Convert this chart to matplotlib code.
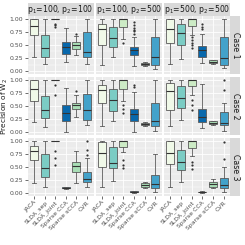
import matplotlib
matplotlib.use("Agg")
import matplotlib.pyplot as plt
import numpy as np

methods = ["JACA", "SLDA_sep", "SLDA_joint", "Sparse CCA", "Sparse sCCA", "CVR"]
colors = ["#F0F9E8", "#7BCCC4", "#CCEBC5", "#0868AC", "#A8DDB5", "#43A2CA"]
settings = [r"$\mathregular{p_1}$=100, $\mathregular{p_2}$=100",
            r"$\mathregular{p_1}$=100, $\mathregular{p_2}$=500",
            r"$\mathregular{p_1}$=500, $\mathregular{p_2}$=500"]
cases = ["Case 1", "Case 2", "Case 3"]
y_ticks = [0.0, 0.25, 0.5, 0.75, 1.0]
y_ticklabels = ["0.00", "0.25", "0.50", "0.75", "1.00"]

# (whisker low, q1, median, q3, whisker high) per method
c1_s1 = [(0.27, 0.70, 0.87, 1.00, 1.00), (0.13, 0.27, 0.45, 0.70, 1.00), (1.00, 1.00, 1.00, 1.00, 1.00),
         (0.17, 0.33, 0.46, 0.56, 0.83), (0.31, 0.42, 0.50, 0.55, 0.67), (0.13, 0.26, 0.37, 0.75, 1.00)]
c1_s2 = [(0.11, 0.50, 0.80, 0.90, 1.00), (0.275, 0.47, 0.64, 0.84, 1.00), (0.62, 0.84, 1.00, 1.00, 1.00),
         (0.10, 0.31, 0.41, 0.46, 0.65), (0.10, 0.12, 0.14, 0.16, 0.18), (0.03, 0.115, 0.26, 0.65, 1.00)]
c1_s3 = [(0.135, 0.53, 0.80, 1.00, 1.00), (0.225, 0.50, 0.725, 0.90, 1.00), (0.69, 0.865, 1.00, 1.00, 1.00),
         (0.16, 0.275, 0.40, 0.48, 0.705), (0.14, 0.15, 0.18, 0.21, 0.22), (0.05, 0.115, 0.245, 0.65, 1.00)]
c2_s1 = [(0.20, 0.60, 0.82, 1.00, 1.00), (0.09, 0.275, 0.42, 0.70, 1.00), (1.00, 1.00, 1.00, 1.00, 1.00),
         (0.00, 0.22, 0.36, 0.52, 0.84), (0.29, 0.44, 0.51, 0.56, 0.71), (0.135, 0.23, 0.43, 0.74, 1.00)]
c2_s2 = [(0.115, 0.55, 0.81, 0.90, 1.00), (0.22, 0.41, 0.615, 0.83, 1.00), (0.60, 0.83, 1.00, 1.00, 1.00),
         (0.00, 0.21, 0.34, 0.44, 0.76), (0.12, 0.135, 0.16, 0.18, 0.20), (0.025, 0.12, 0.22, 0.56, 1.00)]
c2_s3 = [(0.115, 0.42, 0.78, 0.94, 1.00), (0.23, 0.455, 0.65, 0.89, 1.00), (0.71, 0.885, 1.00, 1.00, 1.00),
         (0.07, 0.20, 0.295, 0.44, 0.92), (0.13, 0.15, 0.18, 0.205, 0.22), (0.025, 0.135, 0.18, 0.39, 0.56)]
c3_s1 = [(0.20, 0.63, 0.81, 0.91, 1.00), (0.11, 0.30, 0.475, 0.75, 1.00), (1.00, 1.00, 1.00, 1.00, 1.00),
         (0.08, 0.09, 0.10, 0.11, 0.12), (0.185, 0.41, 0.525, 0.59, 0.81), (0.12, 0.205, 0.265, 0.40, 0.67)]
c3_s2 = [(0.12, 0.50, 0.76, 0.99, 1.00), (0.235, 0.49, 0.58, 0.89, 1.00), (0.79, 0.89, 1.00, 1.00, 1.00),
         (0.00, 0.01, 0.02, 0.03, 0.04), (0.10, 0.12, 0.16, 0.20, 0.22), (0.025, 0.09, 0.17, 0.345, 0.75)]
c3_s3 = [(0.12, 0.55, 0.775, 1.00, 1.00), (0.22, 0.44, 0.60, 0.83, 1.00), (0.71, 0.86, 1.00, 1.00, 1.00),
         (0.00, 0.01, 0.015, 0.02, 0.03), (0.10, 0.12, 0.17, 0.22, 0.26), (0.025, 0.09, 0.155, 0.28, 0.505)]

# outliers per method
f1_s1 = [[], [], [0.91, 0.88, 0.85], [], [0.72], []]
f1_s2 = [[], [], [0.54], [0.94, 0.88, 0.83, 0.79, 0.76, 0.71], [], []]
f1_s3 = [[], [], [0.65, 0.60, 0.54, 0.50, 0.45], [0.90, 0.85, 0.80], [], []]
f2_s1 = [[], [], [0.90, 0.72], [], [0.78], []]
f2_s2 = [[], [], [0.52, 0.44, 0.37], [0.90, 0.86], [], []]
f2_s3 = [[], [], [0.62, 0.52, 0.42], [], [], [1.00, 0.80]]
f3_s1 = [[], [], [0.81, 0.67, 0.54], [], [], [1.00, 0.83, 0.73]]
f3_s2 = [[], [], [0.63, 0.54, 0.475], [], [], []]
f3_s3 = [[], [], [0.60, 0.53, 0.47], [], [], [0.98, 0.65]]

stats = [[c1_s1, c1_s2, c1_s3], [c2_s1, c2_s2, c2_s3], [c3_s1, c3_s2, c3_s3]]
fliers = [[f1_s1, f1_s2, f1_s3], [f2_s1, f2_s2, f2_s3], [f3_s1, f3_s2, f3_s3]]

W = H = 245.0
fig = plt.figure(figsize=(2.45, 2.45), dpi=100)

def px_axes(x0, y0, x1, y1):
    return fig.add_axes([x0 / W, 1 - y1 / H, (x1 - x0) / W, (y1 - y0) / H])

col_x = [(27.5, 93.5), (95.7, 161.7), (163.9, 229.9)]
row_y = [(16.4, 73.6), (77.4, 134.6), (138.4, 195.6)]
strip_fc = "#D9D9D9"

for r in range(3):
    for c in range(3):
        x0, x1 = col_x[c]
        y0, y1 = row_y[r]
        ax = px_axes(x0, y0, x1, y1)
        ax.set_facecolor("#EBEBEB")
        bxs = []
        for i, s in enumerate(stats[r][c]):
            lo, q1, med, q3, hi = s
            bxs.append(dict(whislo=lo, q1=q1, med=med, q3=q3, whishi=hi,
                            fliers=fliers[r][c][i], label=methods[i]))
        pos = np.arange(1, len(methods) + 1)
        bp = ax.bxp(bxs, positions=pos, widths=0.75, patch_artist=True, showcaps=True,
                    boxprops=dict(edgecolor="#5A5A5A", linewidth=0.6),
                    medianprops=dict(color="#333333", linewidth=0.8),
                    whiskerprops=dict(color="#5A5A5A", linewidth=0.6),
                    capprops=dict(color="#5A5A5A", linewidth=0.6),
                    capwidths=0.375,
                    flierprops=dict(marker="o", markersize=1.6, markerfacecolor="#333333",
                                    markeredgecolor="none"), zorder=3)
        for patch, col in zip(bp["boxes"], colors):
            patch.set_facecolor(col)
        ax.set_xlim(0.4, 6.6)
        ax.set_ylim(-0.05, 1.05)
        ax.set_yticks(y_ticks)
        ax.set_yticks([0.125, 0.375, 0.625, 0.875], minor=True)
        ax.set_xticks(pos)
        ax.grid(True, which="major", color="white", linewidth=0.6, zorder=0)
        ax.grid(True, which="minor", axis="y", color="white", linewidth=0.3, zorder=0)
        ax.set_axisbelow(True)
        for sp in ax.spines.values():
            sp.set_visible(False)
        ax.tick_params(which="minor", length=0)
        ax.tick_params(which="major", length=2, width=0.5, color="#333333",
                       labelsize=4.4, labelcolor="#4D4D4D", pad=1)
        if c == 0:
            ax.set_yticklabels(y_ticklabels)
        else:
            ax.tick_params(axis="y", labelleft=False, length=0)
        if r == 2:
            ax.set_xticklabels(methods, rotation=45, ha="right", va="top",
                               rotation_mode="anchor")
        else:
            ax.tick_params(axis="x", labelbottom=False, length=0)
        # top strips
        if r == 0:
            sax = px_axes(x0, 3.2, x1, y0)
            sax.set_facecolor(strip_fc)
            sax.set_xticks([]); sax.set_yticks([])
            for sp in sax.spines.values():
                sp.set_visible(False)
            sax.text(0.5, 0.5, settings[c], ha="center", va="center", fontsize=5.6,
                     color="#1A1A1A", transform=sax.transAxes)
        if c == 2:
            sax = px_axes(x1 + 0.4, y0, x1 + 9.8, y1)
            sax.set_facecolor(strip_fc)
            sax.set_xticks([]); sax.set_yticks([])
            for sp in sax.spines.values():
                sp.set_visible(False)
            sax.text(0.5, 0.5, cases[r], ha="center", va="center", fontsize=5.6,
                     rotation=270, color="#1A1A1A", transform=sax.transAxes)

fig.text(5.2 / W, 1 - 106 / H, r"Precision of $\mathregular{W_2}$", rotation=90,
         ha="center", va="center", fontsize=5.3, color="#1A1A1A")

fig.savefig("out.png", dpi=100, facecolor="white")
